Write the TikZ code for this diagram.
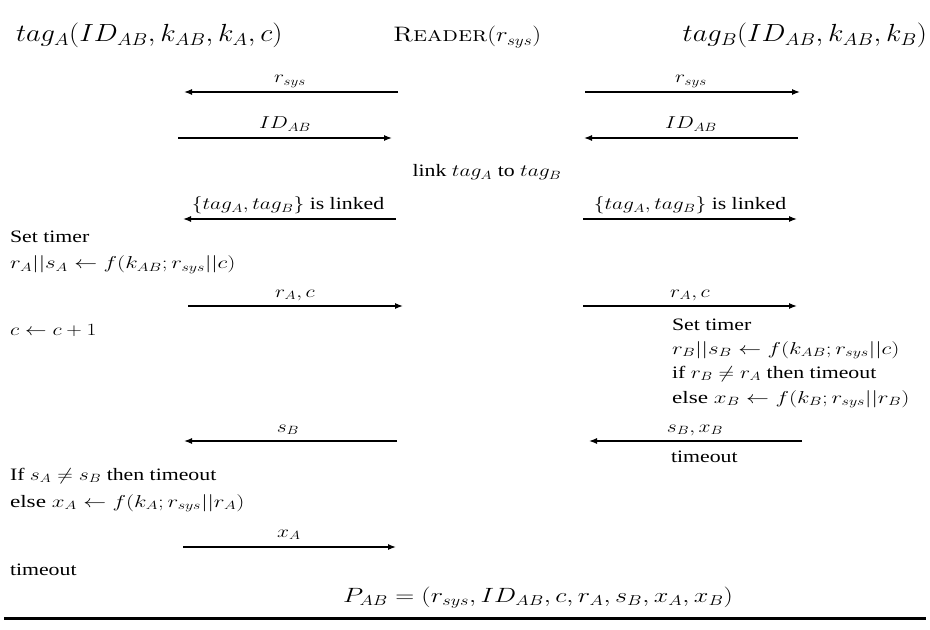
\documentclass[tikz,border=0pt]{standalone}
\usepackage{fontspec}
\newfontfamily\tms{Liberation Serif}
\usetikzlibrary{arrows.meta}
\tikzset{
  basebox/.style={inner sep=0pt, outer sep=0pt, xscale=1.25, transform shape},
  txt/.style={basebox, font=\fontsize{17.5}{20}\selectfont\tms, anchor=base west},
  fml/.style={inner sep=0pt, outer sep=0pt, xscale=1.33, transform shape, font=\fontsize{17.5}{20}\selectfont\tms, anchor=base west},
  lbl/.style={basebox, font=\fontsize{17.5}{20}\selectfont\tms, anchor=base},
  hdr/.style={inner sep=0pt, outer sep=0pt, xscale=1.15, transform shape, font=\fontsize{23.5}{27}\selectfont},
  rdr/.style={inner sep=0pt, outer sep=0pt, xscale=1.2, transform shape, font=\fontsize{21}{25}\selectfont},
  res/.style={inner sep=0pt, outer sep=0pt, xscale=1.27, transform shape, font=\fontsize{22}{26}\selectfont},
  msg/.style={-{Latex[length=8bp,width=6bp]}, line width=1.3bp},
}
\begin{document}
\begin{tikzpicture}[x=1bp,y=-1bp]
\useasboundingbox (0,0) rectangle (930,630);
% header
\node[hdr, anchor=base west] (hA) at (16,42) {$tag_A(ID_{AB},k_{AB},k_A,c)$};
\node[rdr, anchor=base west] (hR) at (393,42) {\textsc{Reader}$(r_{sys})$};
\node[hdr, anchor=base east] (hB) at (927,42) {$tag_B(ID_{AB},k_{AB},k_B)$};
% row 1
\coordinate (a1s) at (398,92); \coordinate (a1e) at (184,92);
\coordinate (b1s) at (585,92); \coordinate (b1e) at (800,92);
\draw[msg] (a1s) -- (a1e);
\draw[msg] (b1s) -- (b1e);
\node[lbl] (la1) at (290,83) {$r_{sys}$};
\node[lbl] (lb1) at (691,83) {$r_{sys}$};
% row 2
\coordinate (a2s) at (178,138); \coordinate (a2e) at (392,138);
\coordinate (b2s) at (798,138); \coordinate (b2e) at (584,138);
\draw[msg] (a2s) -- (a2e);
\draw[msg] (b2s) -- (b2e);
\node[lbl] (la2) at (285,129) {$ID_{AB}$};
\node[lbl] (lb2) at (691,129) {$ID_{AB}$};
% link
\node[lbl] (link) at (487,177) {link $tag_A$ to $tag_B$};
% row 3
\coordinate (a3s) at (396,219); \coordinate (a3e) at (183,219);
\coordinate (b3s) at (583,219); \coordinate (b3e) at (797,219);
\draw[msg] (a3s) -- (a3e);
\draw[msg] (b3s) -- (b3e);
\node[lbl] (la3) at (288,210) {$\{tag_A,tag_B\}$ is linked};
\node[lbl] (lb3) at (690,210) {$\{tag_A,tag_B\}$ is linked};
% left block 1
\node[txt] (tA1) at (10,243) {Set timer};
\node[fml] (tA2) at (10,269) {$r_A||s_A \leftarrow f(k_{AB};r_{sys}||c)$};
% row 4
\coordinate (a4s) at (188,306); \coordinate (a4e) at (403,306);
\coordinate (b4s) at (583,306); \coordinate (b4e) at (797,306);
\draw[msg] (a4s) -- (a4e);
\draw[msg] (b4s) -- (b4e);
\node[lbl] (la4) at (295,297) {$r_A,c$};
\node[lbl] (lb4) at (690,297) {$r_A,c$};
\node[txt] (tA3) at (10,335) {$c \leftarrow c+1$};
% right block
\node[txt] (tB1) at (672,330) {Set timer};
\node[fml] (tB2) at (672,354) {$r_B||s_B \leftarrow f(k_{AB};r_{sys}||c)$};
\node[txt] (tB3) at (672,378) {if $r_B \neq r_A$ then timeout};
\node[fml] (tB4) at (672,403) {else $x_B \leftarrow f(k_B;r_{sys}||r_B)$};
% row 5
\coordinate (a5s) at (397,441); \coordinate (a5e) at (184,441);
\coordinate (b5s) at (802,441); \coordinate (b5e) at (589,441);
\draw[msg] (a5s) -- (a5e);
\draw[msg] (b5s) -- (b5e);
\node[lbl] (la5) at (288,432) {$s_B$};
\node[lbl] (lb5) at (695,432) {$s_B,x_B$};
\node[txt] (tB5) at (671,462) {timeout};
% left block 2
\node[txt] (tA4) at (10,480) {If $s_A \neq s_B$ then timeout};
\node[fml] (tA5) at (10,507) {else $x_A \leftarrow f(k_A;r_{sys}||r_A)$};
% row 6
\coordinate (a6s) at (183,547); \coordinate (a6e) at (396,547);
\draw[msg] (a6s) -- (a6e);
\node[lbl] (la6) at (289,537) {$x_A$};
\node[txt] (tA6) at (10,575) {timeout};
% result
\node[res, anchor=base west] (pab) at (343,602) {$P_{AB}=(r_{sys},ID_{AB},c,r_A,s_B,x_A,x_B)$};
\coordinate (rl) at (4,618.5); \coordinate (rr) at (926,618.5);
\draw[line width=3bp] (rl) -- (rr);
\end{tikzpicture}
\end{document}
